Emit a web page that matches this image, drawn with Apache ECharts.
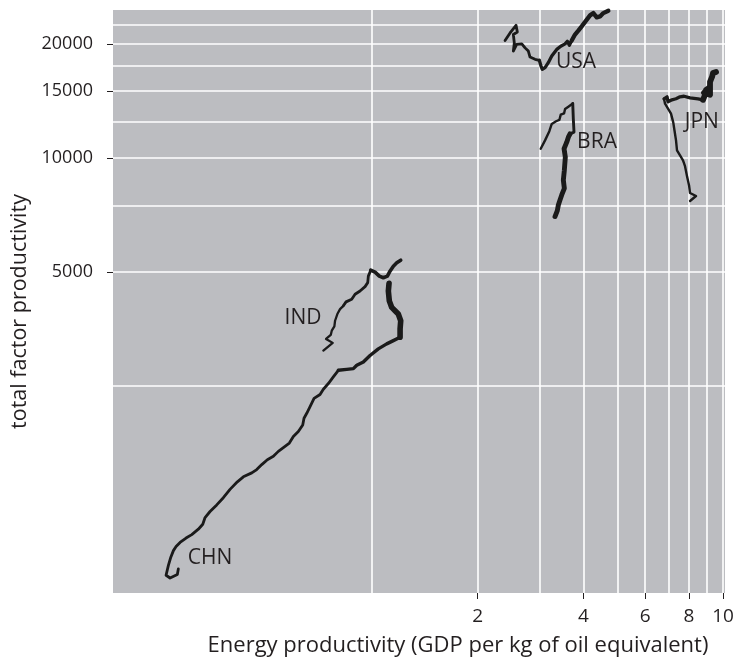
<!DOCTYPE html>
<html><head><meta charset="utf-8">
<script src="https://cdn.jsdelivr.net/npm/echarts@6/dist/echarts.min.js"></script>
<style>html,body{margin:0;padding:0;background:#fff}#c{width:738px;height:662px}</style>
</head><body><div id="c"></div>
<script>
// ---- axis values ----
const xGridValues = [1, 2, 3, 4, 5, 6, 7, 8, 9, 10];
const xTickLabels = [2, 4, 6, 8, 10];
const yGridValues = [2500, 5000, 7500, 10000, 12500, 15000, 17500, 20000, 22500];
const yTickLabels = [5000, 10000, 15000, 20000];
const xRange = [0.1828, 10.13];
const yRange = [712, 24570];

// ---- series: energy productivity (x) and total factor productivity (y), in time order ----
const chnEnergy = [0.2806,0.2788,0.2658,0.2589,0.2629,0.2671,0.2717,0.2765,0.2838,0.2952,0.3065,0.3200,0.3294,0.3344,0.3455,0.3610,0.3770,0.3939,0.4133,0.4299,0.4543,0.4693,0.4851,0.5032,0.5234,0.5408,0.5651,0.5813,0.5968,0.6166,0.6346,0.6400,0.6516,0.6659,0.6836,0.7110,0.7266,0.7508,0.7757,0.8017,0.8471,0.8846,0.9046,0.9445,0.9870,1.042,1.101,1.150,1.202,1.202,1.207,1.188,1.163,1.138,1.120,1.113,1.118];
const chnTfp = [824,797,780,793,842,885,921,944,968,994,1015,1049,1081,1126,1168,1216,1270,1336,1399,1442,1477,1507,1553,1600,1633,1683,1735,1770,1842,1899,1976,2058,2121,2208,2321,2378,2455,2541,2646,2754,2770,2782,2838,2896,3013,3137,3233,3298,3367,3540,3721,3875,3953,4035,4198,4459,4670];

const indEnergy = [0.7266,0.7727,0.7395,0.7627,0.7678,0.7810,0.7846,0.7965,0.8106,0.8283,0.8432,0.8752,0.8946,0.9243,0.9552,0.9721,0.9760,0.9915,1.020,1.049,1.077,1.106,1.125,1.150,1.176,1.207];
const indTfp = [3105,3253,3332,3413,3503,3597,3721,3875,3994,4074,4173,4242,4372,4459,4579,4690,4880,5059,5000,4880,4833,4880,5029,5184,5291,5375];

const usaEnergy = [2.393,2.473,2.572,2.594,2.527,2.543,2.527,2.583,2.671,2.729,2.788,2.819,2.913,2.996,3.030,3.056,3.111,3.178,3.251,3.359,3.449,3.548,3.601,3.649,3.706,3.787,3.870,3.957,4.071,4.179,4.271,4.367,4.463,4.560,4.712];
const usaTfp = [20410,21370,22390,21500,21170,20120,19140,19930,20000,19520,19140,18460,18210,18100,17480,17140,17310,17840,18570,19340,19720,20000,20330,19840,20410,21170,21680,22250,23030,23780,24110,23490,23630,24110,24460];

const braEnergy = [3.024,3.111,3.200,3.251,3.344,3.417,3.449,3.524,3.548,3.625,3.731,3.745,3.762,3.665,3.625,3.587,3.524,3.554,3.531,3.508,3.531,3.471,3.432,3.395,3.372,3.321];
const braTfp = [10580,11130,11770,12300,12500,12600,13010,13110,13470,13660,13930,12680,11700,11580,11350,11010,10580,10060,9286,8743,8316,7989,7750,7519,7266,7006];

const jpnEnergy = [8.054,8.377,8.054,8.000,7.896,7.793,7.691,7.542,7.394,7.346,7.273,7.216,7.108,6.970,6.835,6.790,6.926,6.970,7.154,7.346,7.542,7.742,8.054,8.487,8.770,8.886,8.945,9.122,8.829,9.182,9.182,9.304,9.365,9.552];
const jpnTfp = [7702,7940,8085,8480,8956,9512,9862,10160,10470,11130,11820,12400,13090,13490,13910,14330,14500,14070,14240,14330,14500,14550,14410,14330,14240,14680,15130,15310,14860,14680,15880,16360,16760,16870];

// ---- country labels (anchor values) ----
const labelNames = ['USA', 'BRA', 'JPN', 'IND', 'CHN'];
const labelEnergy = [3.813, 4.375, 8.700, 0.6358, 0.3455];
const labelTfp = [17940, 11020, 12450, 3785, 880];

// ---- styling: line width grows over time (index ranges -> width) ----
const countries = [
  { e: chnEnergy, t: chnTfp, steps: [[0, 39, 2.8], [39, 48, 3.4], [48, 56, 5.6]] },
  { e: indEnergy, t: indTfp, steps: [[0, 9, 2.3], [9, 17, 2.8], [17, 25, 3.6]] },
  { e: usaEnergy, t: usaTfp, steps: [[0, 13, 2.8], [13, 24, 3.3], [24, 34, 4.3]] },
  { e: braEnergy, t: braTfp, steps: [[0, 10, 2.4], [10, 13, 2.9], [13, 25, 4.9]] },
  { e: jpnEnergy, t: jpnTfp, steps: [[0, 15, 2.4], [15, 24, 3.3], [24, 33, 5.8]] }
];

const L = Math.log10;
const FONT = '"Open Sans"';
const TXT = '#231f20';
const fmt = v => String(Math.round(Math.pow(10, v)));

const series = [];
countries.forEach(c => {
  c.steps.forEach(([a, b, w]) => {
    const d = [];
    for (let i = a; i <= b; i++) d.push([L(c.e[i]), L(c.t[i])]);
    series.push({
      type: 'line', data: d, symbol: 'none', silent: true, clip: true,
      lineStyle: { color: '#1a1a1a', width: w, join: 'round', cap: 'round' }, z: 3
    });
  });
});
series.push({
  type: 'scatter', symbolSize: 0, silent: true, z: 4,
  itemStyle: { opacity: 1 },
  data: labelNames.map((n, i) => ({ name: n, value: [L(labelEnergy[i]), L(labelTfp[i])] })),
  label: { show: true, position: 'inside', formatter: p => p.name, fontFamily: FONT, fontSize: 21, color: TXT, opacity: 1 }
});

const chart = echarts.init(document.getElementById('c'), null, { renderer: 'canvas' });
chart.setOption({
  animation: false,
  backgroundColor: '#ffffff',
  textStyle: { fontFamily: FONT },
  grid: { left: 113, right: 13, top: 10, bottom: 67, show: true, backgroundColor: '#bcbdc1', borderWidth: 0 },
  xAxis: [
    { type: 'value', min: L(xRange[0]), max: L(xRange[1]),
      axisLine: { show: false, onZero: false }, axisLabel: { show: false },
      axisTick: { show: false, customValues: xGridValues.map(L) },
      splitLine: { show: true, lineStyle: { color: '#ffffff', width: 1.6 } } },
    { type: 'value', min: L(xRange[0]), max: L(xRange[1]), position: 'bottom',
      axisLine: { show: false, onZero: false }, splitLine: { show: false },
      axisTick: { show: true, inside: false, length: 6, customValues: xTickLabels.map(L), lineStyle: { color: '#231f20', width: 1 } },
      axisLabel: { customValues: xTickLabels.map(L), formatter: fmt, fontFamily: FONT, fontSize: 19, color: TXT, margin: 14 },
      name: 'Energy productivity (GDP per kg of oil equivalent)', nameLocation: 'middle', nameGap: 42,
      nameTextStyle: { fontFamily: FONT, fontSize: 22, color: TXT, padding: [0, 0, 0, 78] } }
  ],
  yAxis: [
    { type: 'value', min: L(yRange[0]), max: L(yRange[1]),
      axisLine: { show: false, onZero: false }, axisLabel: { show: false },
      axisTick: { show: false, customValues: yGridValues.map(L) },
      splitLine: { show: true, lineStyle: { color: '#ffffff', width: 1.6 } } },
    { type: 'value', min: L(yRange[0]), max: L(yRange[1]), position: 'left',
      axisLine: { show: false, onZero: false }, splitLine: { show: false },
      axisTick: { show: true, inside: false, length: 6, customValues: yTickLabels.map(L), lineStyle: { color: '#231f20', width: 1 } },
      axisLabel: { customValues: yTickLabels.map(L), formatter: fmt, fontFamily: FONT, fontSize: 18, color: TXT, margin: 20 },
      name: 'total factor productivity', nameLocation: 'middle', nameGap: 79, nameRotate: 90,
      nameTextStyle: { fontFamily: FONT, fontSize: 21.5, color: TXT, padding: [0, 20, 0, 0] } }
  ],
  series: series
});
</script>
</body></html>
